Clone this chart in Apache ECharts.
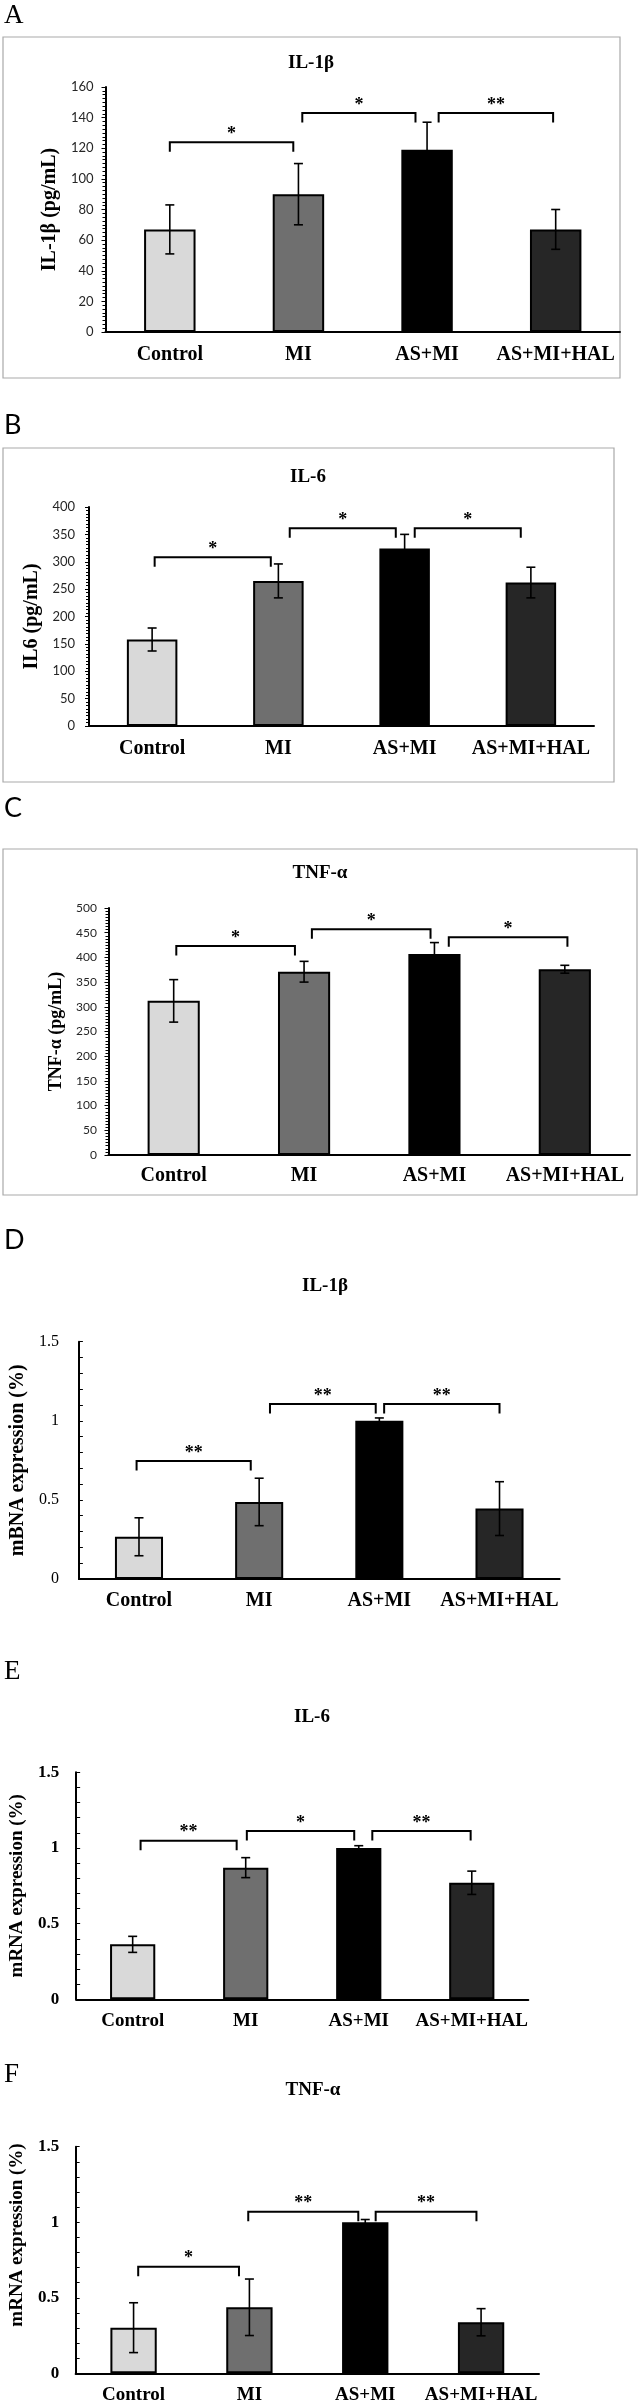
<!DOCTYPE html>
<html>
<head>
<meta charset="utf-8">
<script src="https://cdn.jsdelivr.net/npm/echarts@6/dist/echarts.min.js"></script>
<style>
  html, body { margin: 0; padding: 0; background: #fff; }
  #chart { width: 640px; height: 2405px; }
</style>
</head>
<body>
<div id="chart"></div>
<script>
// groups on the x axis, same in every panel
const groups = ['Control', 'MI', 'AS+MI', 'AS+MI+HAL'];
const barColors = ['#d9d9d9', '#6f6f6f', '#000000', '#262626'];

// A - IL-1β protein (pg/mL)
const il1bPgMean = [67, 90, 119, 67];
const il1bPgSd = [16, 20, 18, 13];
const il1bPgTicks = [0, 160, 20];
// brackets: [from group, to group, height, mark]
const il1bPgSig = [[0, 0.96, 124, '*'], [1.03, 1.91, 143, '*'], [2.09, 2.98, 143, '**']];

// B - IL-6 protein (pg/mL)
const il6PgMean = [158, 265, 324, 262];
const il6PgSd = [21, 31, 26, 28];
const il6PgTicks = [0, 400, 50];
const il6PgSig = [[0.02, 0.94, 308, '*'], [1.09, 1.93, 361, '*'], [2.08, 2.92, 361, '*']];

// C - TNF-α protein (pg/mL)
const tnfPgMean = [312, 371, 407, 376];
const tnfPgSd = [43, 21, 23, 8];
const tnfPgTicks = [0, 500, 50];
const tnfPgSig = [[0.02, 0.93, 423, '*'], [1.06, 1.97, 457, '*'], [2.11, 3.02, 441, '*']];

// D - IL-1β mRNA
const il1bRnaMean = [0.267, 0.487, 1.0, 0.445];
const il1bRnaSd = [0.12, 0.15, 0.018, 0.17];
const il1bRnaTicks = [0, 1.5, 0.5];
const il1bRnaSig = [[-0.02, 0.93, 0.746, '**'], [1.09, 1.97, 1.106, '**'], [2.04, 3.0, 1.106, '**']];

// E - IL-6 mRNA
const il6RnaMean = [0.363, 0.87, 1.0, 0.77];
const il6RnaSd = [0.053, 0.066, 0.015, 0.077];
const il6RnaTicks = [0, 1.5, 0.5];
const il6RnaSig = [[0.07, 0.92, 1.048, '**'], [1.01, 1.96, 1.112, '*'], [2.12, 2.99, 1.112, '**']];

// F - TNF-α mRNA
const tnfRnaMean = [0.302, 0.437, 1.0, 0.338];
const tnfRnaSd = [0.165, 0.187, 0.018, 0.09];
const tnfRnaTicks = [0, 1.5, 0.5];
const tnfRnaSig = [[0.04, 0.91, 0.706, '*'], [0.99, 1.94, 1.07, '**'], [2.09, 2.96, 1.07, '**']];

const SERIF = '"Liberation Serif", "Times New Roman", serif';
const SANS = 'Lato, "Open Sans", sans-serif';

// layout of the six panels
const panels = [
  { letter: 'A', letterFont: SERIF, letterY: 16, box: [3, 37, 617, 341], title: 'IL-1β', titleX: 311, titleY: 63,
    grid: { left: 105.5, top: 87, width: 514.5, height: 245 }, yName: 'IL-1β (pg/mL)', nameGap: 50, nameSize: 20,
    mean: il1bPgMean, sd: il1bPgSd, ticks: il1bPgTicks, sig: il1bPgSig, excel: true, tickSize: 13, tickMargin: 12, xMargin: 13, xSize: 20 },
  { letter: 'B', letterFont: SANS, letterY: 425, box: [3, 448, 611, 334], title: 'IL-6', titleX: 308, titleY: 477,
    grid: { left: 89, top: 507, width: 505, height: 219 }, yName: 'IL6 (pg/mL)', nameGap: 54, nameSize: 20,
    mean: il6PgMean, sd: il6PgSd, ticks: il6PgTicks, sig: il6PgSig, excel: true, tickSize: 13, tickMargin: 14, xMargin: 13, xSize: 20 },
  { letter: 'C', letterFont: SANS, letterY: 808, box: [3, 849, 634, 346], title: 'TNF-α', titleX: 320, titleY: 873,
    grid: { left: 108.5, top: 908, width: 521.5, height: 247 }, yName: 'TNF-α (pg/mL)', nameGap: 44, nameSize: 18,
    mean: tnfPgMean, sd: tnfPgSd, ticks: tnfPgTicks, sig: tnfPgSig, excel: true, tickSize: 12, tickMargin: 11.5, xMargin: 11, xSize: 20 },
  { letter: 'D', letterFont: SANS, letterY: 1240, title: 'IL-1β', titleX: 325, titleY: 1286,
    grid: { left: 73.6, top: 1341.7, width: 486, height: 237.3 }, yName: 'mBNA expression (%)', nameGap: 54, nameSize: 20,
    mean: il1bRnaMean, sd: il1bRnaSd, ticks: il1bRnaTicks, sig: il1bRnaSig, excel: false, tickSize: 16, tickBold: false, tickMargin: 20, xMargin: 12, xSize: 20 },
  { letter: 'E', letterFont: SERIF, letterY: 1672, title: 'IL-6', titleX: 312, titleY: 1717,
    grid: { left: 61.3, top: 1772.3, width: 467, height: 227 }, yName: 'mRNA expression (%)', nameGap: 42, nameSize: 19,
    mean: il6RnaMean, sd: il6RnaSd, ticks: il6RnaTicks, sig: il6RnaSig, excel: false, tickSize: 17, tickBold: true, tickMargin: 17, xMargin: 12, xSize: 19 },
  { letter: 'F', letterFont: SERIF, letterY: 2075, title: 'TNF-α', titleX: 313, titleY: 2090,
    grid: { left: 73.6, top: 2146.7, width: 465.4, height: 226.6 }, yName: 'mRNA expression (%)', nameGap: 55, nameSize: 19, nameShift: 50,
    mean: tnfRnaMean, sd: tnfRnaSd, ticks: tnfRnaTicks, sig: tnfRnaSig, excel: false, tickSize: 17, tickBold: true, tickMargin: 16.5, xMargin: 12, xSize: 19 }
];

const chart = echarts.init(document.getElementById('chart'), null, { renderer: 'canvas' });

const grids = [], xAxes = [], yAxes = [], titles = [], series = [], graphics = [];

panels.forEach((p, k) => {
  grids.push(Object.assign({ containLabel: false }, p.grid));

  xAxes.push({
    type: 'category', gridIndex: k, data: groups,
    axisLine: { show: true, onZero: false, lineStyle: { color: '#000', width: 2 } },
    axisTick: { show: false },
    axisLabel: { interval: 0, margin: p.xMargin, color: '#000', fontFamily: SERIF, fontWeight: 'bold', fontSize: p.xSize }
  });

  yAxes.push({
    type: 'value', gridIndex: k, min: p.ticks[0], max: p.ticks[1], interval: p.ticks[2],
    name: p.yName, nameLocation: 'middle', nameGap: p.nameGap,
    nameTextStyle: {
      fontFamily: SERIF, fontWeight: 'bold', fontSize: p.nameSize, color: '#000', verticalAlign: 'middle',
      padding: p.nameShift ? [0, 0, 0, p.nameShift] : 0
    },
    axisLine: { show: true, lineStyle: { color: '#000', width: 2 } },
    axisTick: { show: true, inside: !p.excel, length: 4, lineStyle: { color: '#000', width: 1 } },
    minorTick: { show: true, splitNumber: p.excel ? 8 : 5, length: p.excel ? 3 : 4, lineStyle: { color: '#000', width: 1 } },
    splitLine: { show: false },
    axisLabel: p.excel
      ? { margin: p.tickMargin, color: '#262626', fontFamily: SANS, fontSize: p.tickSize }
      : { margin: p.tickMargin, color: '#000', fontFamily: SERIF, fontSize: p.tickSize, fontWeight: p.tickBold ? 'bold' : 'normal' }
  });

  titles.push({
    text: p.title, left: p.titleX, top: p.titleY, textAlign: 'center', textVerticalAlign: 'middle', padding: 0,
    textStyle: { fontFamily: SERIF, fontWeight: 'bold', fontSize: 19, color: '#000' }
  });

  // bars
  series.push({
    type: 'bar', xAxisIndex: k, yAxisIndex: k, barWidth: '40%', silent: true, z: 2,
    itemStyle: { borderColor: '#000', borderWidth: 2 },
    data: p.mean.map((v, i) => ({ value: v, itemStyle: { color: barColors[i] } }))
  });

  // error bars
  series.push({
    type: 'custom', xAxisIndex: k, yAxisIndex: k, silent: true, z: 5,
    data: p.mean.map((m, i) => [i, m + p.sd[i], m - p.sd[i]]),
    encode: { x: 0, y: [1, 2] },
    renderItem: function (params, api) {
      const top = api.coord([api.value(0), api.value(1)]);
      const bot = api.coord([api.value(0), api.value(2)]);
      const cap = 4.5;
      const style = { stroke: '#000', lineWidth: 1.6 };
      return {
        type: 'group', children: [
          { type: 'line', shape: { x1: top[0], y1: top[1], x2: bot[0], y2: bot[1] }, style: style },
          { type: 'line', shape: { x1: top[0] - cap, y1: top[1], x2: top[0] + cap, y2: top[1] }, style: style },
          { type: 'line', shape: { x1: bot[0] - cap, y1: bot[1], x2: bot[0] + cap, y2: bot[1] }, style: style }
        ]
      };
    }
  });

  // significance brackets
  series.push({
    type: 'custom', xAxisIndex: k, yAxisIndex: k, silent: true, z: 6,
    data: p.sig.map(s => [Math.round(s[0]), s[2]]),
    encode: { x: 0, y: 1 },
    renderItem: function (params, api) {
      const s = p.sig[params.dataIndex];
      const band = api.size([1, 0])[0];
      const at = v => api.coord([Math.round(v), s[2]])[0] + (v - Math.round(v)) * band;
      const x1 = at(s[0]), x2 = at(s[1]);
      const y = api.coord([0, s[2]])[1];
      const drop = 9.5;
      return {
        type: 'group', children: [
          { type: 'polyline', shape: { points: [[x1, y + drop], [x1, y], [x2, y], [x2, y + drop]] },
            style: { stroke: '#000', lineWidth: 2, fill: 'none' } },
          { type: 'text', style: { text: s[3], x: (x1 + x2) / 2, y: y + 1, align: 'center', verticalAlign: 'bottom',
            font: 'bold 18px ' + SERIF, fill: '#000' } }
        ]
      };
    }
  });

  if (p.box) {
    graphics.push({ type: 'rect', silent: true, shape: { x: p.box[0], y: p.box[1], width: p.box[2], height: p.box[3] },
      style: { fill: 'none', stroke: '#a9a9a9', lineWidth: 1.2 } });
  }
  graphics.push({ type: 'text', silent: true, x: 4, y: p.letterY,
    style: { text: p.letter, font: '27px ' + p.letterFont, verticalAlign: 'middle', fill: '#000' } });
});

chart.setOption({
  animation: false,
  backgroundColor: '#fff',
  title: titles,
  grid: grids,
  xAxis: xAxes,
  yAxis: yAxes,
  series: series,
  graphic: graphics
});
</script>
</body>
</html>
